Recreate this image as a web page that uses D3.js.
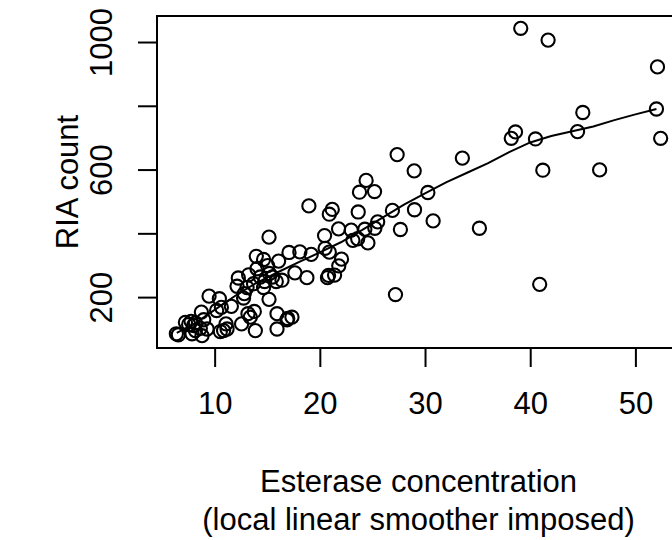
<!DOCTYPE html>
<html>
<head>
<meta charset="utf-8">
<title>Esterase vs RIA count</title>
<script src="https://cdn.jsdelivr.net/npm/d3@7"></script>
<style>
  body { margin: 0; background: #fff; }
  text { font-family: "Liberation Sans", Arial, Helvetica, sans-serif; fill: #000; }
</style>
</head>
<body>
<div id="chart"></div>
<script>
// esterase concentration (x) and RIA count (y)
var esterase = [39.1, 41.7, 52.1, 52.0, 45.0, 52.4, 44.5, 38.6, 38.2, 40.5,
                41.2, 46.6, 27.35, 33.55, 28.97, 24.4, 23.77, 25.2, 30.27, 18.96,
                21.18, 20.9, 23.65, 26.9, 29.0, 30.77, 35.17, 27.66, 25.5, 25.23,
                24.28, 22.98, 21.78, 20.45, 23.14, 23.6, 24.57, 15.17, 20.5, 20.9,
                22.06, 21.8, 20.83, 20.73, 21.4, 18.77, 19.18, 18.1, 17.07, 16.08,
                17.63, 16.4, 15.86, 13.96, 14.65, 15.03, 14.03, 13.23, 12.25, 12.13,
                13.08, 14.34, 14.75, 15.2, 15.5, 13.7, 12.82, 12.75, 14.65, 15.17,
                27.19, 40.9, 9.47, 10.45, 10.64, 11.59, 10.19, 8.74, 7.76, 8.17,
                8.0, 7.53, 8.64, 9.28, 8.8, 11.08, 10.85, 10.54, 11.18, 12.56,
                13.17, 13.77, 13.39, 13.87, 15.93, 16.88, 17.35, 16.95, 15.93, 6.55,
                6.36, 8.17, 7.85, 7.22, 8.96];
var ria = [1043, 1006, 922, 790, 779, 698, 719, 718, 698, 696,
           598, 599, 647, 636, 596, 566, 529, 531, 528, 486,
           475, 460, 467, 472, 474, 439, 416, 412, 436, 416,
           413, 410, 414, 393, 378, 383, 370, 388, 353, 341,
           319, 298, 268, 261, 269, 261, 334, 342, 340, 313,
           276, 253, 249, 328, 318, 299, 289, 270, 260, 234,
           230, 263, 249, 274, 263, 242, 211, 197, 230, 193,
           208, 240, 203, 195, 168, 171, 158, 153, 124, 119,
           111, 114, 102, 100, 79, 116, 95, 92, 100, 116,
           148, 155, 137, 95, 148, 129, 137, 133, 100, 82,
           85, 95, 85, 121, 129];

// local linear smoother curve
var smoothX = [6.4, 8, 10, 12, 14, 16, 18, 20, 22, 24, 26, 28,
               30, 32, 34, 36, 38, 40, 42, 44, 46, 48, 50, 52];
var smoothY = [88, 115, 160, 205, 245, 278, 310, 340, 372, 410, 450, 490,
               525, 560, 590, 620, 655, 685, 705, 720, 735, 755, 773, 790];

var xTicks = [10, 20, 30, 40, 50];
var yTicks = [200, 400, 600, 800, 1000];
var yLabels = [200, 600, 1000];

var width = 672, height = 540;
var plotL = 157, plotR = 680, plotT = 16, plotB = 348;

var svg = d3.select("#chart").append("svg")
    .attr("width", width)
    .attr("height", height);

svg.append("rect").attr("width", width).attr("height", height).attr("fill", "#fff");

var x = d3.scaleLinear().domain([4.52, 54.24]).range([plotL, plotR]);
var y = d3.scaleLinear().domain([40.4, 1081.6]).range([plotB, plotT]);

// points
svg.append("g")
  .selectAll("circle")
  .data(esterase.map(function(d, i) { return [d, ria[i]]; }))
  .enter().append("circle")
    .attr("cx", function(d) { return x(d[0]); })
    .attr("cy", function(d) { return y(d[1]); })
    .attr("r", 6.6)
    .attr("fill", "none")
    .attr("stroke", "#000")
    .attr("stroke-width", 2.1);

// smoother
var line = d3.line()
    .x(function(d) { return x(d[0]); })
    .y(function(d) { return y(d[1]); });

svg.append("path")
    .datum(smoothX.map(function(d, i) { return [d, smoothY[i]]; }))
    .attr("d", line)
    .attr("fill", "none")
    .attr("stroke", "#000")
    .attr("stroke-width", 2);

// box
svg.append("rect")
    .attr("x", plotL).attr("y", plotT)
    .attr("width", plotR - plotL).attr("height", plotB - plotT)
    .attr("fill", "none")
    .attr("stroke", "#000")
    .attr("stroke-width", 2);

// x axis
var xAxis = svg.append("g")
    .attr("transform", "translate(0," + plotB + ")")
    .call(d3.axisBottom(x).tickValues(xTicks).tickSize(19).tickSizeOuter(0));
xAxis.select(".domain").remove();
xAxis.selectAll("line").attr("stroke-width", 2);
xAxis.selectAll("text")
    .attr("y", 66).attr("dy", null)
    .style("font-size", "31px");

// y axis
var yAxis = svg.append("g")
    .attr("transform", "translate(" + plotL + ",0)")
    .call(d3.axisLeft(y).tickValues(yTicks).tickSize(19).tickSizeOuter(0)
      .tickFormat(function(d) { return yLabels.indexOf(d) >= 0 ? d : ""; }));
yAxis.select(".domain").remove();
yAxis.selectAll("line").attr("stroke-width", 2);
yAxis.selectAll("text")
    .attr("x", null).attr("dy", null)
    .attr("transform", "translate(-45,0) rotate(-90)")
    .attr("text-anchor", "middle")
    .style("font-size", "31px");

// titles
var cx = (plotL + plotR) / 2;
svg.append("text")
    .attr("x", cx).attr("y", 491.5)
    .attr("text-anchor", "middle")
    .style("font-size", "31px")
    .text("Esterase concentration");
svg.append("text")
    .attr("x", cx).attr("y", 530)
    .attr("text-anchor", "middle")
    .style("font-size", "31px")
    .text("(local linear smoother imposed)");

svg.append("text")
    .attr("transform", "translate(78," + ((plotT + plotB) / 2) + ") rotate(-90)")
    .attr("text-anchor", "middle")
    .style("font-size", "31px")
    .text("RIA count");
</script>
</body>
</html>
